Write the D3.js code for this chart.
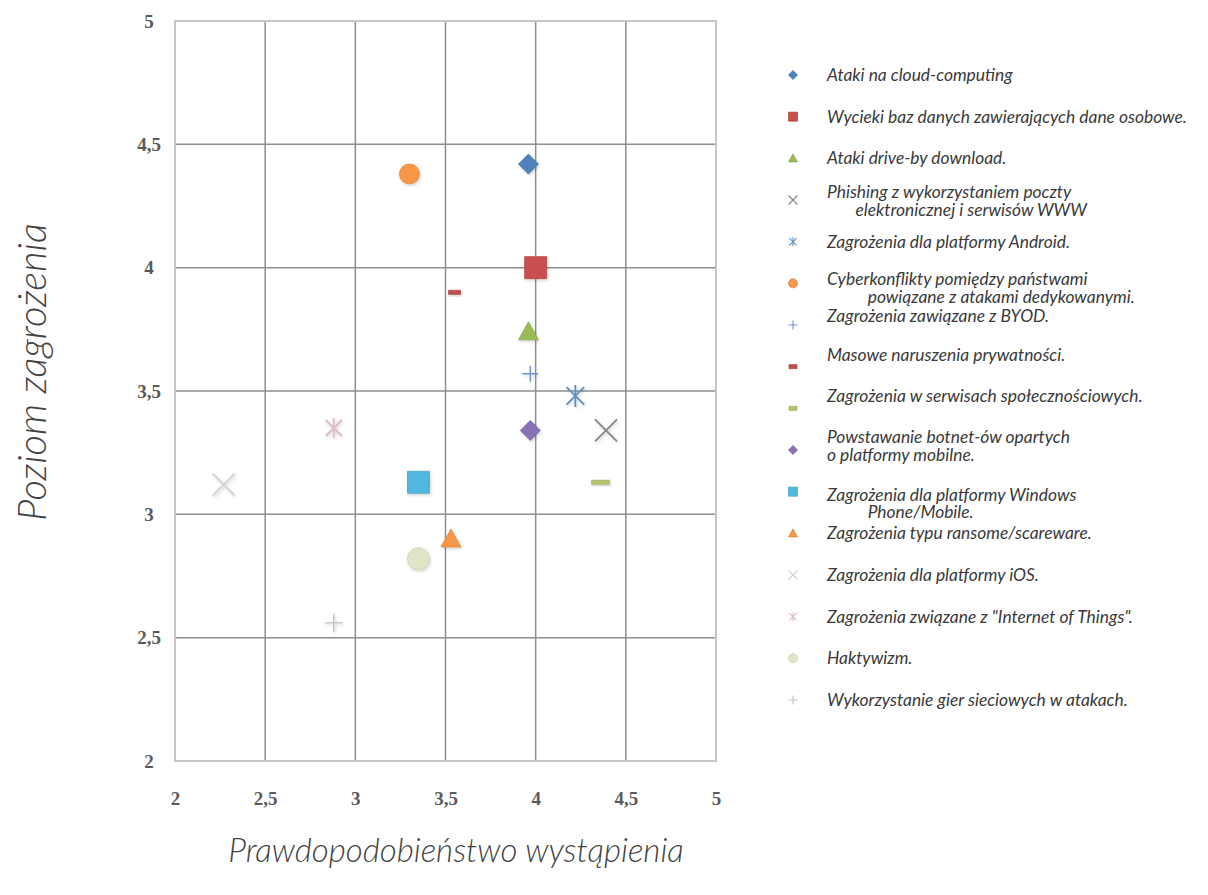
<!DOCTYPE html>
<html>
<head>
<meta charset="utf-8">
<script src="https://cdn.jsdelivr.net/npm/d3@7"></script>
<style>
  body { margin: 0; background: #fff; }
</style>
</head>
<body>
<div id="chart"></div>
<script>
// Mapa zagrożeń: prawdopodobieństwo wystąpienia (x) vs poziom zagrożenia (y)

const seriesNames = [
  "Ataki na cloud-computing",
  "Wycieki baz danych zawierających dane osobowe.",
  "Ataki drive-by download.",
  "Phishing z wykorzystaniem poczty\n       elektronicznej i serwisów WWW",
  "Zagrożenia dla platformy Android.",
  "Cyberkonflikty pomiędzy państwami\n          powiązane z atakami dedykowanymi.",
  "Zagrożenia zawiązane z BYOD.",
  "Masowe naruszenia prywatności.",
  "Zagrożenia w serwisach społecznościowych.",
  "Powstawanie botnet-ów opartych\no platformy mobilne.",
  "Zagrożenia dla platformy Windows\n          Phone/Mobile.",
  "Zagrożenia typu ransome/scareware.",
  "Zagrożenia dla platformy iOS.",
  "Zagrożenia związane z \"Internet of Things\".",
  "Haktywizm.",
  "Wykorzystanie gier sieciowych w atakach."
];

// prawdopodobieństwo wystąpienia
const xValues = [3.96, 4.00, 3.96, 4.39, 4.22, 3.30, 3.97, 3.55, 4.36, 3.97, 3.35, 3.53, 2.27, 2.88, 3.35, 2.88];
// poziom zagrożenia
const yValues = [4.42, 4.00, 3.74, 3.34, 3.48, 4.38, 3.57, 3.90, 3.13, 3.34, 3.13, 2.90, 3.12, 3.35, 2.82, 2.56];

const tickValues = [2, 2.5, 3, 3.5, 4, 4.5, 5];
const tickLabels = ["2", "2,5", "3", "3,5", "4", "4,5", "5"];

// styles (kept apart from the data)
const seriesSymbols = ["diamond", "square", "triangle", "x", "star", "circle", "plus", "dash",
                       "dash", "diamond", "square", "triangle", "x", "star", "circle", "plus"];
const seriesColors = ["#4f81bd", "#c9504f", "#9bbb59", "#85848c", "#5f8fbd", "#f79646", "#6f95c9", "#c0504d",
                      "#b5c66d", "#8a6fb4", "#4fb8dc", "#f79646", "#d2d2d2", "#dbbcc6", "#dfe5c6", "#c2c2c6"];
const markerSize = [10, 11, 10, 11, 11, 10, 8, 6, 9, 10, 11, 10, 11, 10, 11, 9];
// small vertical nudges of the legend texts (as they sit in the original figure)
const legendNudge = [0, 0, 0, -8, 0, -4, -9, -12, -12, -13, 3, 0, 0, 0, 0, 0];

const width = 1208, height = 895;
const plot = { left: 175, right: 716, top: 21, bottom: 761 };

const svg = d3.select("#chart").append("svg")
  .attr("width", width)
  .attr("height", height);

const defs = svg.append("defs");
defs.append("filter")
  .attr("id", "soft")
  .attr("x", "-50%").attr("y", "-50%").attr("width", "200%").attr("height", "200%")
  .append("feDropShadow")
  .attr("dx", 1).attr("dy", 1.5).attr("stdDeviation", 1.5)
  .attr("flood-color", "#000").attr("flood-opacity", 0.18);

const x = d3.scaleLinear().domain([2, 5]).range([plot.left, plot.right]);
const y = d3.scaleLinear().domain([2, 5]).range([plot.bottom, plot.top]);

// gridlines
const inner = tickValues.slice(1, -1);
svg.append("g").selectAll("line.v")
  .data(inner).join("line")
  .attr("x1", d => x(d)).attr("x2", d => x(d))
  .attr("y1", plot.top).attr("y2", plot.bottom)
  .attr("stroke", "#8e8e8e").attr("stroke-width", 1.5);
svg.append("g").selectAll("line.h")
  .data(inner).join("line")
  .attr("y1", d => y(d)).attr("y2", d => y(d))
  .attr("x1", plot.left).attr("x2", plot.right)
  .attr("stroke", "#8e8e8e").attr("stroke-width", 1.5);

svg.append("rect")
  .attr("x", plot.left).attr("y", plot.top)
  .attr("width", plot.right - plot.left).attr("height", plot.bottom - plot.top)
  .attr("fill", "none")
  .attr("stroke", "#c6c6c6").attr("stroke-width", 2);

// axes (ticks only as labels)
const axisX = svg.append("g")
  .attr("transform", `translate(0, ${plot.bottom + 27})`)
  .call(d3.axisBottom(x).tickValues(tickValues).tickSize(0).tickFormat((d, i) => tickLabels[i]));
const axisY = svg.append("g")
  .attr("transform", `translate(${plot.left - 26}, 0)`)
  .call(d3.axisLeft(y).tickValues(tickValues).tickSize(0).tickFormat((d, i) => tickLabels[i]));

[axisX, axisY].forEach(a => {
  a.select(".domain").remove();
  a.selectAll("text")
    .style("font-family", "'Liberation Serif', serif")
    .style("font-weight", "bold")
    .style("font-size", "19px")
    .attr("fill", "#5a5a5a");
});
// y labels sit centred under each other in the original
axisY.selectAll("text").attr("x", 0).attr("text-anchor", "middle");

// marker shapes
function markerPath(type, s) {
  switch (type) {
    case "diamond": return `M0,${-s}L${s},0L0,${s}L${-s},0Z`;
    case "square": return `M${-s},${-s}H${s}V${s}H${-s}Z`;
    case "triangle": return `M0,${-s}L${s},${s * 0.8}L${-s},${s * 0.8}Z`;
    case "circle": return d3.arc()({ innerRadius: 0, outerRadius: s, startAngle: 0, endAngle: 2 * Math.PI });
    case "dash": return `M${-s},-2H${s}V2H${-s}Z`;
    case "x": return `M${-s},${-s}L${s},${s}M${-s},${s}L${s},${-s}`;
    case "star": return `M${-s * 0.8},${-s * 0.8}L${s * 0.8},${s * 0.8}M${-s * 0.8},${s * 0.8}L${s * 0.8},${-s * 0.8}M0,${-s}V${s}`;
    case "plus": return `M${-s},0H${s}M0,${-s}V${s}`;
  }
}
const isLine = t => t === "x" || t === "star" || t === "plus";

function drawMarker(g, i, s, lw) {
  const t = seriesSymbols[i];
  const c = seriesColors[i];
  const p = g.append("path").attr("d", markerPath(t, s));
  if (isLine(t)) {
    p.attr("fill", "none").attr("stroke", c).attr("stroke-width", lw);
  } else {
    p.attr("fill", c)
      .attr("stroke", d3.color(c).darker(0.25))
      .attr("stroke-width", 0.8);
  }
}

// points
const points = seriesNames.map((name, i) => ({ i, x: xValues[i], y: yValues[i] }));
points.forEach(d => {
  const g = svg.append("g")
    .attr("transform", `translate(${x(d.x)}, ${y(d.y)})`)
    .attr("filter", "url(#soft)");
  drawMarker(g, d.i, markerSize[d.i], seriesSymbols[d.i] === "plus" ? 1.4 : 1.8);
});

// legend
const legendY = d3.scaleLinear().domain([0, seriesNames.length - 1]).range([75, 700]);
const legendMarkerX = 793, legendTextX = 827;
const legend = svg.append("g");
seriesNames.forEach((name, i) => {
  const my = legendY(i);
  const mg = legend.append("g").attr("transform", `translate(${legendMarkerX}, ${my})`);
  drawMarker(mg, i, seriesSymbols[i] === "dash" ? 4 : 4.5, 1.1);

  const t = legend.append("text")
    .attr("x", legendTextX)
    .attr("y", my + 6 + legendNudge[i])
    .style("font-family", "Lato, sans-serif")
    .style("font-style", "italic")
    .style("font-size", "17.4px")
    .style("white-space", "pre")
    .attr("fill", "#3a3a3a");
  name.split("\n").forEach((line, k) => {
    t.append("tspan")
      .attr("x", legendTextX)
      .attr("dy", k === 0 ? 0 : 17.5)
      .text(line);
  });
});

// axis titles
svg.append("text")
  .attr("x", 456).attr("y", 862)
  .attr("text-anchor", "middle")
  .style("font-family", "Lato, sans-serif")
  .style("font-style", "italic")
  .style("font-weight", 300)
  .style("font-size", "33px")
  .attr("fill", "#444")
  .text("Prawdopodobieństwo wystąpienia");

svg.append("text")
  .attr("transform", "translate(46, 372) rotate(-90)")
  .attr("text-anchor", "middle")
  .style("font-family", "Lato, sans-serif")
  .style("font-style", "italic")
  .style("font-weight", 300)
  .style("font-size", "40px")
  .attr("fill", "#444")
  .text("Poziom zagrożenia");
</script>
</body>
</html>
